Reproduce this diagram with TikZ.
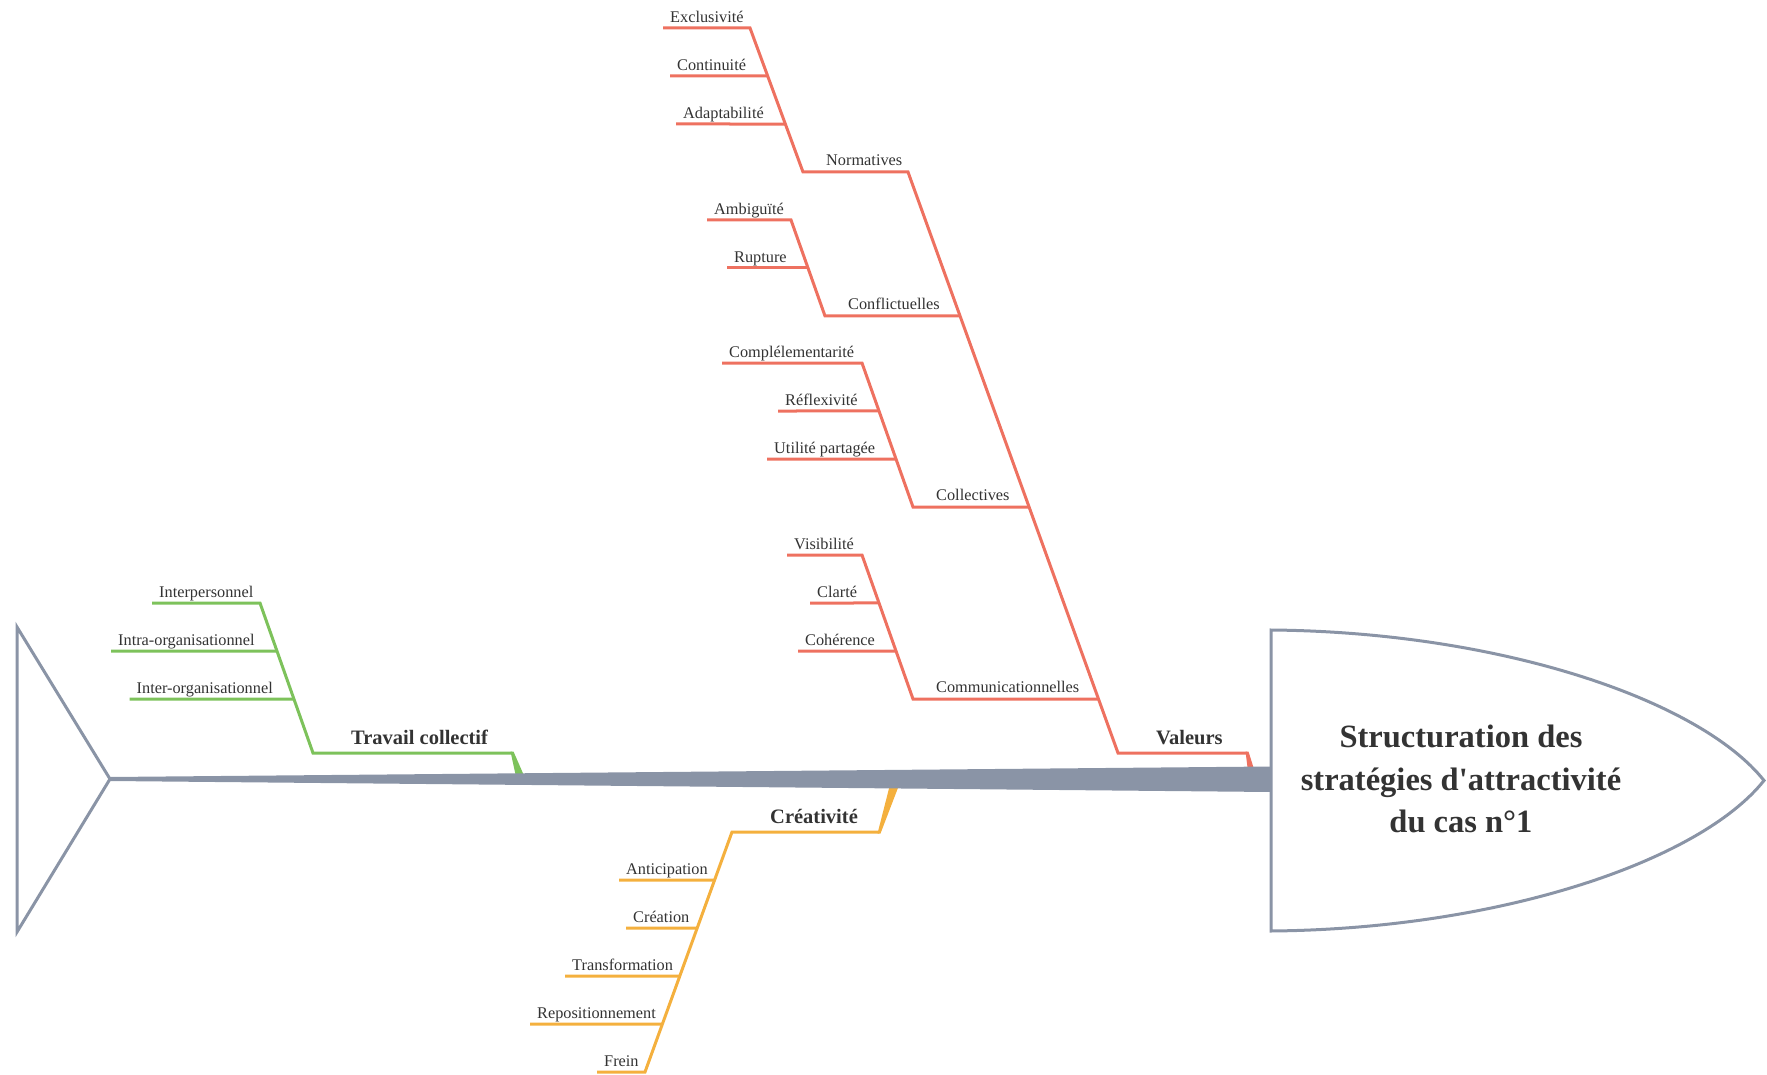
\documentclass[tikz,border=0pt]{standalone}
\usepackage{fontspec}
\setmainfont{Liberation Serif}
\usetikzlibrary{calc}
\definecolor{valred}{HTML}{EE7160}
\definecolor{travgreen}{HTML}{7DC25B}
\definecolor{creaorange}{HTML}{F4B03E}
\definecolor{spinegray}{HTML}{8A94A6}
\definecolor{labelgray}{HTML}{333333}
\begin{document}
\begin{tikzpicture}[x=1pt,y=-1pt,
  bone/.style={line width=3pt},
  leaf/.style={anchor=south west,inner xsep=7pt,inner ysep=5pt,text depth=0pt,text=labelgray,font=\fontsize{16.3}{19}\selectfont},
  cat/.style={leaf,inner xsep=23pt,inner ysep=6pt},
  bigcat/.style={leaf,inner xsep=38pt,inner ysep=8pt,font=\fontsize{20.5}{24}\selectfont\bfseries},
  outline/.style={draw=spinegray,line width=3pt}]
\useasboundingbox (0,0) rectangle (1767,1075);

\coordinate (spine-l) at (110,779);
\coordinate (val-top) at (908,172);
\coordinate (val-bot) at (1118,753);
\coordinate (val-end) at (1247,753);
\coordinate (tra-top) at (260,603);
\coordinate (tra-bot) at (313,753);
\coordinate (tra-end) at (512,753);
\coordinate (cre-bot) at (732,832);
\coordinate (cre-end) at (879,832);
\coordinate (cre-tip) at (645,1072);

\fill[valred] (val-end) ++(-1.5,-1.5) -- ++(3,0) -- ++(5,16) -- ++(-6,0) -- cycle;
\fill[travgreen] (tra-end) ++(-1.5,-1.5) -- ++(3,0) -- ++(10,23) -- ++(-8,0) -- cycle;
\fill[creaorange] (cre-end) ++(-1.5,1.5) -- ++(3,0) -- ++(18,-47) -- ++(-9,0) -- cycle;

\fill[spinegray] (spine-l) ++(0,-2) -- (1271,766.5) -- (1271,792) -- (110,781) -- cycle;
\draw[outline] (17,627) -- (spine-l) -- (17,932) -- cycle;
\draw[outline] (1271,630) -- (1271,931) .. controls (1500,929) and (1700,861) .. (1764,780.5)
  .. controls (1700,700) and (1500,632) .. (1271,630) -- cycle;
\node[font=\fontsize{32.5}{42.5}\selectfont\bfseries,align=center,text=labelgray] (goal) at (1461,779)
  {Structuration des\\stratégies d\textquotesingle{}attractivité\\du cas n°1};

\node[bigcat] (val) at (val-bot) {Valeurs};

\coordinate (nor-top) at (750,28);
\coordinate (nor-bot) at (803,172);
\node[cat] (nor) at (nor-bot) {Normatives};
\node[leaf] (excl) at (663,28) {Exclusivité};
\node[leaf] (cont) at (670,76) {Continuité};
\node[leaf] (adap) at (676,124) {Adaptabilité};
\draw[bone,valred] (excl.south west) -- (nor-top) -- (nor-bot) -- (val-top) -- (val-bot) -- (val-end);
\draw[bone,valred] (cont.south west) -- ($(nor-top)!0.3333!(nor-bot)$);
\draw[bone,valred] (adap.south west) -- ($(nor-top)!0.6667!(nor-bot)$);

\coordinate (con-top) at (791,220);
\coordinate (con-bot) at (825,316);
\coordinate (con-end) at (960,316);
\node[cat] (con) at (con-bot) {Conflictuelles};
\node[leaf] (ambi) at (707,220) {Ambiguïté};
\node[leaf] (rupt) at (727,268) {Rupture};
\draw[bone,valred] (ambi.south west) -- (con-top) -- (con-bot) -- (con-end);
\draw[bone,valred] (rupt.south west) -- ($(con-top)!0.5!(con-bot)$);

\coordinate (col-top) at (862,363);
\coordinate (col-bot) at (913,507);
\coordinate (col-end) at (1029,507);
\node[cat] (col) at (col-bot) {Collectives};
\node[leaf] (comp) at (722,363) {Complélementarité};
\node[leaf] (refl) at (778,411) {Réflexivité};
\node[leaf] (util) at (767,459) {Utilité partagée};
\draw[bone,valred] (comp.south west) -- (col-top) -- (col-bot) -- (col-end);
\draw[bone,valred] (refl.south west) -- ($(col-top)!0.3333!(col-bot)$);
\draw[bone,valred] (util.south west) -- ($(col-top)!0.6667!(col-bot)$);

\coordinate (com-top) at (862,555);
\coordinate (com-bot) at (913,699);
\coordinate (com-end) at (1098.5,699);
\node[cat] (com) at (com-bot) {Communicationnelles};
\node[leaf] (visi) at (787,555) {Visibilité};
\node[leaf] (clar) at (810,603) {Clarté};
\node[leaf] (cohe) at (798,651) {Cohérence};
\draw[bone,valred] (visi.south west) -- (com-top) -- (com-bot) -- (com-end);
\draw[bone,valred] (clar.south west) -- ($(com-top)!0.3333!(com-bot)$);
\draw[bone,valred] (cohe.south west) -- ($(com-top)!0.6667!(com-bot)$);

\node[bigcat] (tra) at (tra-bot) {Travail collectif};
\node[leaf] (inpe) at (152,603) {Interpersonnel};
\node[leaf] (intr) at (111,651) {Intra-organisationnel};
\node[leaf] (inte) at (129.5,699) {Inter-organisationnel};
\draw[bone,travgreen] (inpe.south west) -- (tra-top) -- (tra-bot) -- (tra-end);
\draw[bone,travgreen] (intr.south west) -- ($(tra-top)!0.32!(tra-bot)$);
\draw[bone,travgreen] (inte.south west) -- ($(tra-top)!0.64!(tra-bot)$);

\node[bigcat] (cre) at (cre-bot) {Créativité};
\node[leaf] (anti) at (619,880) {Anticipation};
\node[leaf] (crea) at (626,928) {Création};
\node[leaf] (tran) at (565,976) {Transformation};
\node[leaf] (repo) at (530,1024) {Repositionnement};
\node[leaf] (frei) at (597,1072) {Frein};
\draw[bone,creaorange] (frei.south west) -- (cre-tip) -- (cre-bot) -- (cre-end);
\draw[bone,creaorange] (anti.south west) -- ($(cre-bot)!0.2!(cre-tip)$);
\draw[bone,creaorange] (crea.south west) -- ($(cre-bot)!0.4!(cre-tip)$);
\draw[bone,creaorange] (tran.south west) -- ($(cre-bot)!0.6!(cre-tip)$);
\draw[bone,creaorange] (repo.south west) -- ($(cre-bot)!0.8!(cre-tip)$);
\end{tikzpicture}
\end{document}
